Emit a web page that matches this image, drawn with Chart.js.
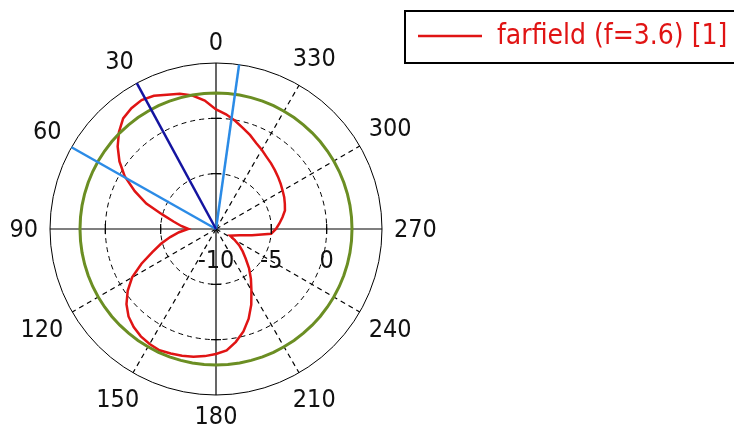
<!DOCTYPE html>
<html>
<head>
<meta charset="utf-8">
<script src="https://cdn.jsdelivr.net/npm/chart.js@4.4.1/dist/chart.umd.min.js"></script>
<style>
    html, body { margin: 0; padding: 0; background: #fff; }
    #chart { display: block; }
</style>
</head>
<body>
<canvas id="chart" width="734" height="432"></canvas>
<script>
// farfield cut, theta measured counter-clockwise from the top
const angles = [
    0, 5, 10, 15, 20, 25, 30, 35, 40, 45, 50, 55,
    60, 65, 70, 75, 80, 85, 90, 95, 100, 105, 110, 115,
    120, 125, 130, 135, 140, 145, 150, 155, 160, 165, 170, 175,
    180, 185, 190, 195, 200, 205, 210, 215, 220, 225, 230, 235,
    240, 245, 250, 255, 260, 265, 270, 275, 280, 285, 290, 295,
    300, 305, 310, 315, 320, 325, 330, 335, 340, 345, 350, 355
];
const gainDb = [
    0.8, 1.65, 2.25, 2.65, 2.92, 3.28, 3.45, 3.32, 3.05, 2.4, 1.6, 0.65,
    -0.47, -1.9, -3.3, -5.0, -6.1, -6.85, -7.5, -6.65, -5.8, -4.85, -3.88, -2.57,
    -1.25, -0.26, 0.56, 1.18, 1.57, 1.84, 2.0, 2.09, 1.97, 1.86, 1.73, 1.53,
    1.3, 1.02, 0.35, -0.42, -1.37, -2.46, -3.6, -4.5, -5.35, -6.2, -6.85, -7.45,
    -8.1, -8.6, -8.3, -7.8, -6.7, -5.0, -4.58, -4.25, -3.9, -3.55, -3.38, -3.2,
    -3.05, -2.87, -2.68, -2.48, -2.26, -2.04, -1.73, -1.42, -0.98, -0.56, -0.07, 0.4
];
const refLevelDb = 2.29;
const angleLabels = [0, 30, 60, 90, 120, 150, 180, 210, 240, 270, 300, 330];
const hiddenSpokes = [30, 60];
const radialTicks = [-10, -5, 0, 5];
const mainLobeAngle = 28.5;
const beamEdgeAngles = [60.5, 352];
const seriesName = 'farfield (f=3.6) [1]';

const FONT = '"DejaVu Sans Condensed", "DejaVu Sans", sans-serif';
const STEP = 360 / angles.length;

// Chart.js goes clockwise, so the labels are fed in reverse
const order = angles.map((a, i) => (angles.length - i) % angles.length);
const chartLabels = order.map(k => String(angles[k]));
const chartGain = order.map(k => gainDb[k]);
const chartRef = order.map(() => refLevelDb);

function indexForAngle(theta) {
    return ((360 - theta) % 360) / STEP;
}

function spokeWidth(c) {
    const a = Number(chartLabels[c.index]);
    if (a % 30 !== 0 || hiddenSpokes.includes(a)) return 0;
    return 1.2;
}

const overlayPlugin = {
    id: 'overlay',
    afterDatasetsDraw(chart) {
        const ctx = chart.ctx;
        const scale = chart.scales.r;
        const cx = scale.xCenter;
        const cy = scale.yCenter;
        ctx.save();

        // beam markers
        const drawRay = (theta, color) => {
            const p = scale.getPointPositionForValue(indexForAngle(theta), scale.max);
            ctx.strokeStyle = color;
            ctx.lineWidth = 2.5;
            ctx.setLineDash([]);
            ctx.beginPath();
            ctx.moveTo(cx, cy);
            ctx.lineTo(p.x, p.y);
            ctx.stroke();
        };
        beamEdgeAngles.forEach(a => drawRay(a, '#2b8be6'));
        drawRay(mainLobeAngle, '#1414a0');

        // small ticks on the solid axes
        ctx.strokeStyle = '#000';
        ctx.lineWidth = 1.2;
        [0, 90, 180, 270].forEach(theta => {
            radialTicks.slice(1, -1).forEach(v => {
                const p = scale.getPointPositionForValue(indexForAngle(theta), v);
                ctx.beginPath();
                if (theta % 180 === 0) {
                    ctx.moveTo(p.x - 5, p.y);
                    ctx.lineTo(p.x + 5, p.y);
                } else {
                    ctx.moveTo(p.x, p.y - 5);
                    ctx.lineTo(p.x, p.y + 5);
                }
                ctx.stroke();
            });
        });

        // radial tick labels below the right axis
        ctx.fillStyle = '#111';
        ctx.font = '25px ' + FONT;
        ctx.textAlign = 'center';
        ctx.textBaseline = 'alphabetic';
        radialTicks.slice(0, -1).forEach(v => {
            const p = scale.getPointPositionForValue(indexForAngle(270), v);
            ctx.fillText(String(v), p.x, cy + 39);
        });

        // angle labels round the outside
        ctx.textBaseline = 'middle';
        angleLabels.forEach(theta => {
            const text = String(theta);
            const w = ctx.measureText(text).width;
            const rad = theta * Math.PI / 180;
            const d = 178 + Math.abs(Math.sin(rad)) * w / 2 + Math.abs(Math.cos(rad)) * 9;
            const p = scale.getPointPosition(indexForAngle(theta), d);
            ctx.fillText(text, p.x, p.y + 1);
        });

        // legend box
        ctx.fillStyle = '#fff';
        ctx.fillRect(405, 11, 340, 52);
        ctx.strokeStyle = '#000';
        ctx.lineWidth = 2;
        ctx.strokeRect(405, 11, 340, 52);
        const ds = chart.data.datasets[0];
        ctx.strokeStyle = ds.borderColor;
        ctx.lineWidth = 2.5;
        ctx.beginPath();
        ctx.moveTo(418, 36);
        ctx.lineTo(482, 36);
        ctx.stroke();
        ctx.fillStyle = ds.borderColor;
        ctx.font = '28px ' + FONT;
        ctx.textAlign = 'left';
        ctx.fillText(ds.label, 497, 37);

        ctx.restore();
    }
};

new Chart(document.getElementById('chart'), {
    type: 'radar',
    data: {
        labels: chartLabels,
        datasets: [{
            label: seriesName,
            data: chartGain,
            borderColor: '#e01414',
            borderWidth: 2.5,
            pointRadius: 0,
            fill: false,
            order: 1
        }, {
            label: 'ref',
            data: chartRef,
            borderColor: '#6b8e23',
            borderWidth: 3,
            pointRadius: 0,
            fill: false,
            order: 0
        }]
    },
    options: {
        responsive: false,
        animation: false,
        layout: {
            padding: { left: 50, right: 352, top: 63, bottom: 37 }
        },
        plugins: {
            legend: { display: false },
            tooltip: { enabled: false }
        },
        scales: {
            r: {
                min: radialTicks[0],
                max: radialTicks[radialTicks.length - 1],
                ticks: { stepSize: 5, display: false },
                pointLabels: { display: false },
                grid: {
                    circular: true,
                    color: '#000',
                    lineWidth: 1
                },
                border: {
                    dash: (c) => (c.tick && c.tick.value === radialTicks[radialTicks.length - 1]) ? [] : [5, 4]
                },
                angleLines: {
                    color: '#000',
                    lineWidth: spokeWidth,
                    borderDash: (c) => (Number(chartLabels[c.index]) % 90 === 0 ? [] : [5, 4])
                }
            }
        }
    },
    plugins: [overlayPlugin]
});
</script>
</body>
</html>
